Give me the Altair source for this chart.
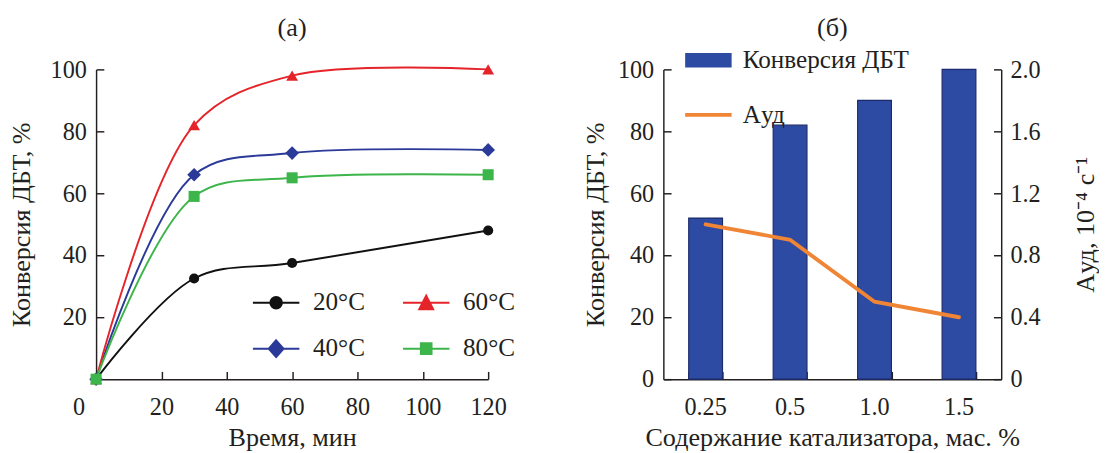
import altair as alt
import pandas as pd

# ---- panel (a) data ----
times = [0, 30, 60, 120]
temps = ["20°C", "40°C", "60°C", "80°C"]
conv_20 = [0, 32.5, 37.5, 48]
conv_40 = [0, 66, 73, 74]
conv_60 = [0, 82, 98, 100]
conv_80 = [0, 59, 65, 66]
temp_colors = ["#111111", "#2b3a98", "#e5242a", "#3cb54a"]
marker_shapes = ["circle", "diamond", "triangle-up", "square"]
marker_sizes = [110, 200, 150, 130]
x_ticks_a = [0, 20, 40, 60, 80, 100, 120]
y_ticks_a = [20, 40, 60, 80, 100]

# ---- panel (б) data ----
catalyst = ["0.25", "0.5", "1.0", "1.5"]
conv_dbt = [52, 82, 90, 100]
a_ud = [1.0, 0.9, 0.5, 0.4]
series_b = ["Конверсия ДБТ", "Aуд"]
y_ticks_b = [0, 20, 40, 60, 80, 100]
y2_ticks_b = [0, 0.4, 0.8, 1.2, 1.6, 2.0]

FONT = "Liberation Serif"
INK = "#231f20"
BAR = "#2e4ba3"
BAR_EDGE = "#1b2a6b"
ORANGE = "#ef8535"
W_A, W_B, H = 405, 349, 320

rows = []
for t, vals in zip(temps, [conv_20, conv_40, conv_60, conv_80]):
    for x, v in zip(times, vals):
        rows.append({"time": x, "conv": v, "temp": t})
df_a = pd.DataFrame(rows)
df_b = pd.DataFrame({"cat": catalyst, "conv": conv_dbt, "a": a_ud})

sc_time = alt.Scale(domain=[0, 120], nice=False)
sc_conv = alt.Scale(domain=[0, 100], nice=False)
sc_a = alt.Scale(domain=[0, 2], nice=False)

# main axes (labels + titles, no ticks)
x_a_main = alt.X("time:Q", scale=sc_time, axis=alt.Axis(
    values=x_ticks_a[1:], title="Время, мин", ticks=False, labelPadding=17, titlePadding=6))
y_a_main = alt.Y("conv:Q", scale=sc_conv, axis=alt.Axis(
    values=y_ticks_a, title="Конверсия ДБТ, %", ticks=False, labelPadding=10, titlePadding=15))
x_a_plain = alt.X("time:Q", scale=sc_time, axis=None)
y_a_plain = alt.Y("conv:Q", scale=sc_conv, axis=None)

layers_a = []
for i, (t, col) in enumerate(zip(temps, temp_colors)):
    layers_a.append(
        alt.Chart(df_a).transform_filter(alt.datum.temp == t)
        .mark_line(interpolate="catmull-rom", strokeWidth=2, color=col)
        .encode(x=x_a_main if i == 0 else x_a_plain, y=y_a_main if i == 0 else y_a_plain)
    )
for t, col, shp, sz in zip(temps, temp_colors, marker_shapes, marker_sizes):
    layers_a.append(
        alt.Chart(df_a).transform_filter(alt.datum.temp == t)
        .mark_point(shape=shp, filled=True, size=sz, opacity=1, color=col)
        .encode(x=x_a_plain, y=y_a_plain)
    )

# inward ticks: opposite-side axes moved onto the plot edges
ticks_a = alt.Chart(df_a).transform_filter("false").mark_point().encode(
    x=alt.X("time:Q", scale=sc_time, axis=alt.Axis(
        orient="top", offset={"expr": str(-H)}, values=x_ticks_a[1:], labels=False,
        domain=False, title=None, tickSize=8)),
    y=alt.Y("conv:Q", scale=sc_conv, axis=alt.Axis(
        orient="right", offset={"expr": str(-W_A)}, values=y_ticks_a, labels=False,
        domain=False, title=None, tickSize=8)),
)
layers_a.append(ticks_a)

# the corner "0", set a little to the left of the origin
zero_a = alt.Chart(df_a).transform_filter("false").mark_point().encode(
    x=alt.X("time:Q", scale=sc_time, axis=alt.Axis(
        orient="bottom", values=x_ticks_a[:1], ticks=False, domain=False, title=None,
        labelPadding=17, labelOffset=-18)),
)
layers_a.append(zero_a)

legend_paths_a = [
    "M-1,0H1M0.25,0A0.25,0.25,0,1,1,-0.25,0A0.25,0.25,0,1,1,0.25,0Z",
    "M-1,0H1M0,-0.36L0.32,0L0,0.36L-0.32,0Z",
    "M-1,0H1M0,-0.3L0.3,0.28L-0.3,0.28Z",
    "M-1,0H1M-0.23,-0.23H0.23V0.23H-0.23Z",
]
leg_a = alt.Legend(
    orient="none", legendX=161, legendY=216, columns=2, columnPadding=35,
    rowPadding=9.5, title=None, labelFont=FONT, labelFontSize=26, labelColor=INK,
    symbolSize=2304, symbolStrokeWidth=2, labelOffset=13, labelLimit=400,
)
legend_a = (
    alt.Chart(df_a).transform_filter("false").mark_point(filled=True, opacity=1)
    .encode(
        fill=alt.Fill("temp:N", scale=alt.Scale(domain=temps, range=temp_colors), legend=leg_a),
        stroke=alt.Stroke("temp:N", scale=alt.Scale(domain=temps, range=temp_colors), legend=leg_a),
        shape=alt.Shape("temp:N", scale=alt.Scale(domain=temps, range=legend_paths_a), legend=leg_a),
    )
)
layers_a.append(legend_a)

panel_a = (
    alt.layer(*layers_a)
    .resolve_axis(x="independent", y="independent")
    .properties(
        width=W_A, height=H,
        title=alt.TitleParams("(a)", font=FONT, fontSize=27, fontWeight="normal", color=INK, offset=16),
    )
)

# ---- panel (б) ----
sc_cat = alt.Scale(paddingInner=0.6, paddingOuter=0.3)
x_b_main = alt.X("cat:N", sort=catalyst, scale=sc_cat, axis=alt.Axis(
    title="Содержание катализатора, мас. %", labelAngle=0, ticks=False,
    labelPadding=17, titlePadding=6))
x_b_plain = alt.X("cat:N", sort=catalyst, scale=sc_cat, axis=None)

bars_b = alt.Chart(df_b).mark_bar(color=BAR, stroke=BAR_EDGE, strokeWidth=1.2).encode(
    x=x_b_main,
    y=alt.Y("conv:Q", scale=sc_conv, axis=alt.Axis(
        values=y_ticks_b, title="Конверсия ДБТ, %", ticks=False,
        labelPadding=10, titlePadding=8)),
)
line_b = alt.Chart(df_b).mark_line(color=ORANGE, strokeWidth=4, strokeCap="round").encode(
    x=x_b_plain,
    y=alt.Y("a:Q", scale=sc_a, axis=alt.Axis(
        orient="right", values=y2_ticks_b,
        labelExpr="datum.value == 0 ? '0' : format(datum.value, '.1f')",
        title="Aуд, 10⁻⁴ с⁻¹", titleAngle=270, titleBaseline="top",
        ticks=False, labelPadding=9, titlePadding=34)),
)
ticks_b1 = alt.Chart(df_b).transform_filter("false").mark_point().encode(
    x=alt.X("cat:N", sort=catalyst, scale=sc_cat, axis=alt.Axis(
        orient="top", offset={"expr": str(-H)}, tickBand="extent", labels=False,
        domain=False, title=None, tickSize=8)),
    y=alt.Y("conv:Q", scale=sc_conv, axis=alt.Axis(
        orient="right", offset={"expr": str(-W_B)}, values=y_ticks_b, labels=False,
        domain=False, title=None, tickSize=8)),
)
ticks_b2 = alt.Chart(df_b).transform_filter("false").mark_point().encode(
    y=alt.Y("a:Q", scale=sc_a, axis=alt.Axis(
        orient="left", offset={"expr": str(-W_B)}, values=y2_ticks_b, labels=False,
        domain=False, title=None, tickSize=8)),
)

# this legend is placed relative to the first panel's plot origin
leg_b = alt.Legend(
    orient="none", legendX=601, legendY=-41, rowPadding={"expr": "-22.5"}, title=None,
    labelFont=FONT, labelFontSize=26, labelColor=INK, symbolSize=2304,
    symbolType="M-1,0H1", labelOffset=4, labelLimit=400,
)
legend_b = (
    alt.Chart(df_b).transform_filter("false").mark_point(filled=False, opacity=1)
    .encode(
        color=alt.Color("s:N", scale=alt.Scale(domain=series_b, range=[BAR, ORANGE]), legend=leg_b),
        strokeWidth=alt.StrokeWidth("s:O", scale=alt.Scale(domain=series_b, range=[15, 4]), legend=leg_b),
    )
)
panel_b = (
    alt.layer(bars_b, line_b, ticks_b1, ticks_b2, legend_b)
    .resolve_scale(y="independent")
    .resolve_axis(x="independent", y="independent")
    .properties(
        width=W_B, height=H,
        title=alt.TitleParams("(б)", font=FONT, fontSize=27, fontWeight="normal", color=INK, offset=16),
    )
)

chart = (
    alt.hconcat(panel_a, panel_b, spacing=78)
    .properties(padding={"left": 0, "top": 0, "right": 0, "bottom": 0})
    .configure_view(stroke=None)
    .configure_axis(
        grid=False, labelFlush=False,
        domainColor=INK, domainWidth=1.5, tickColor=INK, tickWidth=1.5,
        labelFont=FONT, labelFontSize=25, labelColor=INK,
        titleFont=FONT, titleFontSize=27, titleFontWeight="normal", titleColor=INK,
    )
    .configure_legend(padding=0)
)

chart.save("out.html", embed_options={"renderer": "svg", "actions": False})
